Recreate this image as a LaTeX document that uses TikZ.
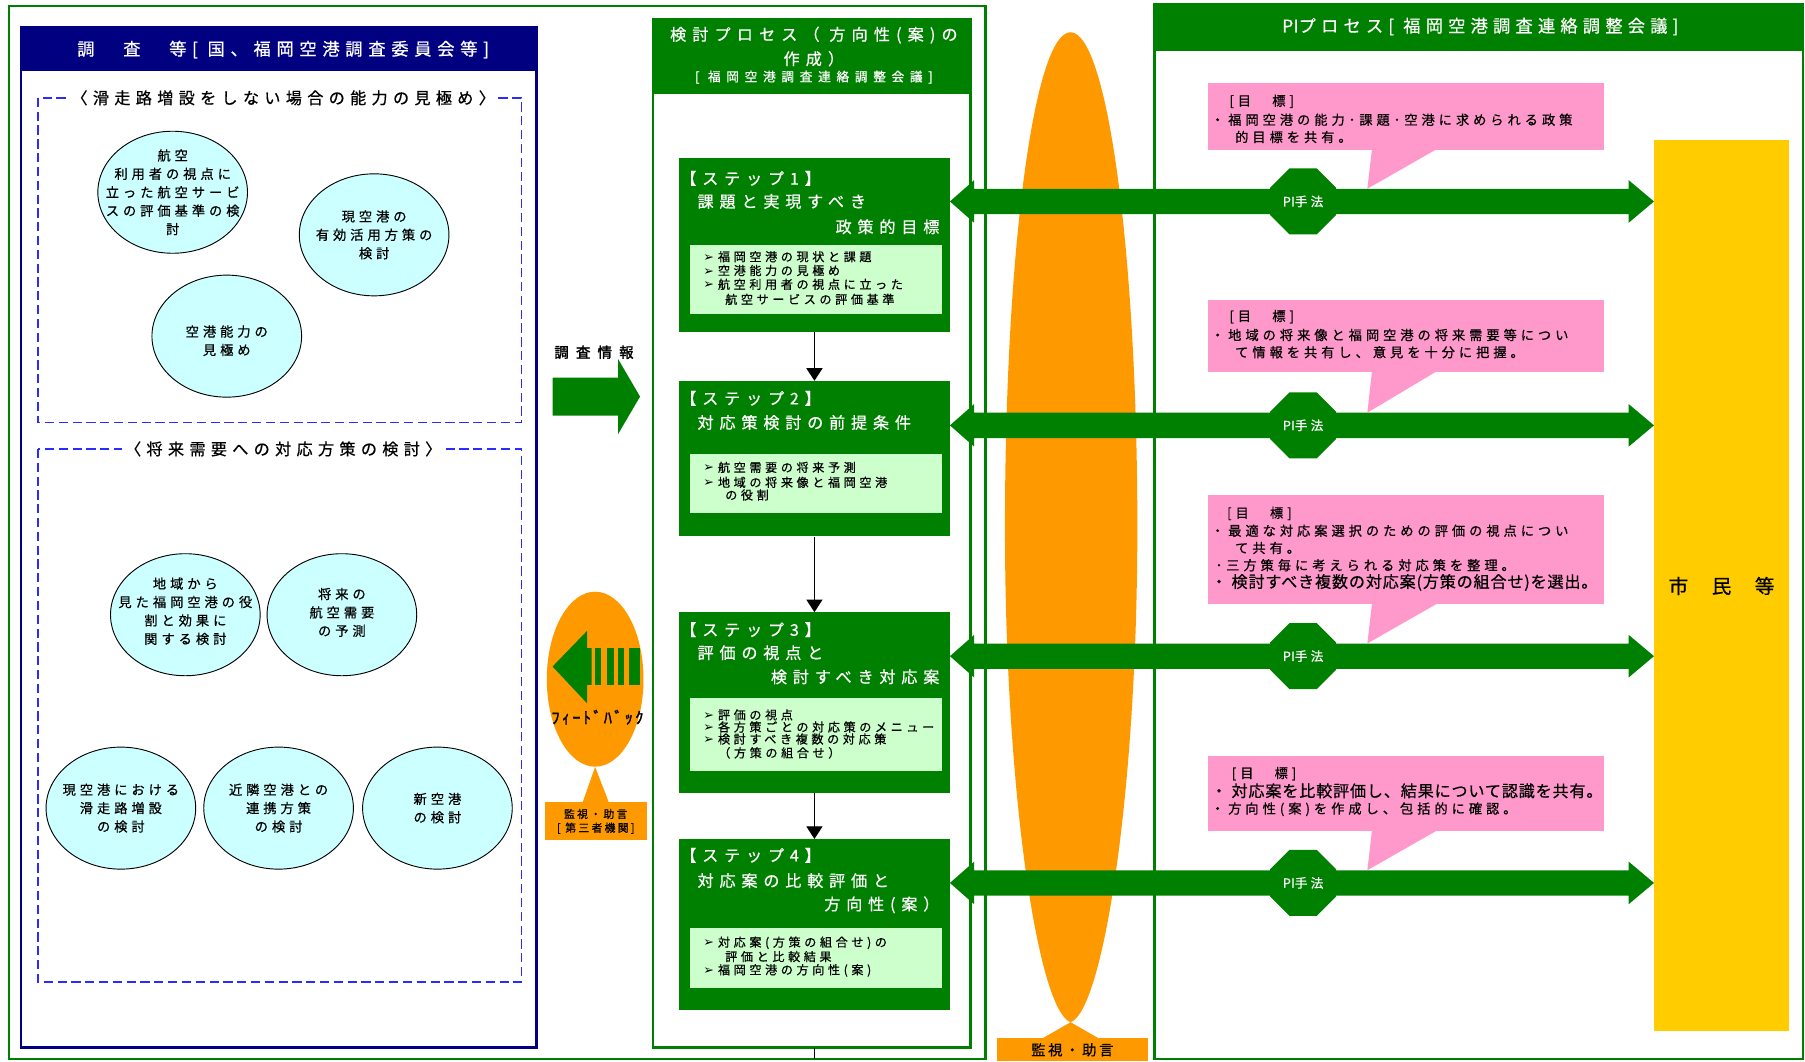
\documentclass[tikz,border=0pt]{standalone}
\usepackage{fontspec}
\newfontfamily\jp[FakeBold=0.6]{Noto Sans CJK JP}
\newfontfamily\jpb[FakeBold=2]{Noto Sans CJK JP}
\newfontfamily\dv{DejaVu Sans}
\usetikzlibrary{shapes.geometric,arrows.meta,calc}
\definecolor{gr}{HTML}{008000}
\definecolor{lg}{HTML}{CCFFCC}
\definecolor{cy}{HTML}{CCFFFF}
\definecolor{nvy}{HTML}{000080}
\definecolor{dblue}{HTML}{2B2BFF}
\definecolor{orng}{HTML}{FF9900}
\definecolor{yel}{HTML}{FFCC00}
\definecolor{pnk}{HTML}{FF99CC}
\newcommand\jfs[3]{\jp\fontsize{#1}{#2}\selectfont\addfontfeature{LetterSpace=#3}}
\newcommand\jfb[3]{\jpb\fontsize{#1}{#2}\selectfont\addfontfeature{LetterSpace=#3}}
\newcommand\bmark{{\dv\fontsize{11}{10}\selectfont ➢}\hspace{3.5pt}}
\newcommand\PIx{{\addfontfeature{LetterSpace=2}PI}}
\newcommand\dblarr[2]{\fill[gr] (#1) -- ++(21,-18.5) -- ++(0,7.5) -- ($(#2)+(-22,-11)$) -- ++(0,-7.5) -- (#2) -- ++(-22,18.5) -- ++(0,-7.5) -- ($(#1)+(21,11)$) -- ++(0,7.5) -- cycle;}
\begin{document}
\begin{tikzpicture}[x=1pt,y=-1pt,
 txt/.style={inner sep=0pt, outer sep=0pt},
 hdr/.style={txt, text=white, font=\jfs{15}{18}{33}},
 dtitle/.style={fill=white, inner xsep=3pt, inner ysep=3pt, font=\jfs{14}{16}{33}},
 dashbox/.style={draw=dblue, line width=1.2pt, dash pattern=on 8pt off 4pt},
 ell/.style={ellipse, draw=black, line width=0.8pt, fill=cy, minimum width=130pt, minimum height=106pt, inner sep=0pt},
 etxt/.style={txt, align=center, font=\jfs{11.5}{16}{30}},
 stepbox/.style={fill=gr, minimum width=235pt, inner sep=0pt},
 inbox/.style={fill=lg, minimum width=219pt, inner sep=0pt},
 sttl/.style={txt, text=white, font=\jfs{14}{16}{36}},
 bul/.style={txt, anchor=west, font=\jfs{10.5}{12}{30}},
 stepar/.style={draw=black, line width=1pt, -{Triangle[width=14pt,length=11pt]}},
 pinkbox/.style={fill=pnk, minimum width=344pt, inner sep=0pt},
 ptxt/.style={txt, anchor=west, font=\jfs{11.5}{14}{30}},
 ptight/.style={txt, anchor=west, font=\jfs{14}{16}{5}},
 oct/.style={regular polygon, regular polygon sides=8, minimum size=62pt, fill=gr, inner sep=0pt, text=white, font=\jfs{11}{12}{25}}
]
\useasboundingbox (0,0) rectangle (1568,921.7);
\fill[white] (0,0) rectangle (1568,921.7);

% ---------- left: survey ----------
\draw[gr, line width=2pt] (8,5) rectangle (856,920);
\draw[nvy, line width=2pt] (18,24) rectangle (466,910);
\fill[nvy] (18,24) rectangle (466,62);
\node[hdr] (bt) at (246,43) {調　査　等[ 国、福岡空港調査委員会等]};

\draw[dashbox] (33,85) rectangle (453,367);
\node[dtitle] (d1t) at (246,85) {〈滑走路増設をしない場合の能力の見極め〉};
\draw[dashbox] (33,390) rectangle (453,853);
\node[dtitle] (d2t) at (246,390) {〈将来需要への対応方策の検討〉};

\node[ell] (e1) at (150,167) {};
\node[ell] (e2) at (325,204) {};
\node[ell] (e3) at (197,292) {};
\node[ell] (e4) at (161,534) {};
\node[ell] (e5) at (297,534) {};
\node[ell] (e6) at (105,702) {};
\node[ell] (e7) at (242,702) {};
\node[ell] (e8) at (380,702) {};
\node[etxt] (e1t) at (e1) {航空\\利用者の視点に\\立った航空サービ\\スの評価基準の検\\討};
\node[etxt] (e2t) at (e2) {現空港の\\有効活用方策の\\検討};
\node[etxt] (e3t) at ($(e3)+(0,4)$) {空港能力の\\見極め};
\node[etxt] (e4t) at ($(e4)+(0,-3)$) {地域から\\見た福岡空港の役\\割と効果に\\関する検討};
\node[etxt] (e5t) at ($(e5)+(0,-2)$) {将来の\\航空需要\\の予測};
\node[etxt] (e6t) at (e6) {現空港における\\滑走路増設\\の検討};
\node[etxt] (e7t) at (e7) {近隣空港との\\連携方策\\の検討};
\node[etxt] (e8t) at (e8) {新空港\\の検討};

% ---------- info arrow & feedback ----------
\node[txt, font=\jfb{12.5}{14}{50}] (info) at (516,306) {調査情報};
\fill[gr] (480,328) -- (537,328) -- (537,312) -- (556,344.5) -- (537,377) -- (537,361) -- (480,361) -- cycle;

\node[ellipse, fill=orng, minimum width=84pt, minimum height=152pt, inner sep=0pt] (fb) at (517,590) {};
\node[fill=orng, minimum width=89pt, minimum height=33pt, inner sep=0pt, align=center, font=\jfs{9.5}{12}{20}] (fbbox) at (517.5,713.5) {監視・助言\\ {[} 第三者機関{]}};
\fill[orng] (fb.south) -- ($(fbbox.north)+(-11.5,0.5)$) -- ($(fbbox.north)+(11.5,0.5)$) -- cycle;
\fill[gr] (480,579) -- (510,548) -- (510,563) -- (514,563) -- (514,595) -- (510,595) -- (510,611) -- cycle;
\fill[gr] (517,563) rectangle (522,595);
\fill[gr] (527,563) rectangle (533,595);
\fill[gr] (537,563) rectangle (542,595);
\fill[gr] (546,563) rectangle (556,595);
\node[txt, font=\jfb{14}{16}{15}] (fbt) at (519,623) {ﾌｨｰﾄﾞﾊﾞｯｸ};

% ---------- middle: process ----------
\draw[gr, line width=2pt] (567,17) rectangle (843,910);
\fill[gr] (567,17) rectangle (843,82);
\node[txt, text=white, font=\jfs{14}{16}{38}] (m1) at (707,30.5) {検討プロセス（ 方向性(案)の};
\node[txt, text=white, font=\jfs{14}{16}{38}] (m2) at (707,51) {作成）};
\node[txt, text=white, font=\jfs{11}{12}{45}] (m3) at (707,67) {[ 福岡空港調査連絡調整会議]};

% big orange ellipse
\fill[orng] (930,28) .. controls (962,28) and (988,221) .. (988,458) .. controls (988,690) and (958,878) .. (930,888) .. controls (902,878) and (873,690) .. (873,458) .. controls (873,221) and (898,28) .. (930,28) -- cycle;
\node[fill=orng, minimum width=131pt, minimum height=20pt, inner sep=0pt, font=\jfs{12.5}{14}{18}] (mon) at (931.5,912) {監視・助言};
\fill[orng] (930,888) -- ($(mon.north)+(23.5,0.5)$) -- ($(mon.north)+(-26.5,0.5)$) -- cycle;

% steps
\node[stepbox, minimum height=151pt] (s1) at (707.5,212.5) {};
\node[stepbox, minimum height=135pt] (s2) at (707.5,398.5) {};
\node[stepbox, minimum height=157pt] (s3) at (707.5,610.5) {};
\node[stepbox, minimum height=148pt] (s4) at (707.5,803) {};
\node[inbox, minimum height=60pt] (i1) at (708.5,243) {};
\node[inbox, minimum height=52pt] (i2) at (708.5,420) {};
\node[inbox, minimum height=64pt] (i3) at (708.5,638) {};
\node[inbox, minimum height=52pt] (i4) at (708.5,832) {};

\node[sttl, anchor=west] (s1a) at (591,155) {【ステップ1】};
\node[sttl, anchor=west] (s1b) at (606,175) {課題と実現すべき};
\node[sttl, anchor=east] (s1c) at (816,197) {政策的目標};
\node[bul] (s1d) at (611,223) {\bmark 福岡空港の現状と課題};
\node[bul] (s1e) at (611,235) {\bmark 空港能力の見極め};
\node[bul] (s1f) at (611,247) {\bmark 航空利用者の視点に立った};
\node[bul] (s1g) at (630,260) {航空サービスの評価基準};

\node[sttl, anchor=west] (s2a) at (591,346) {【ステップ2】};
\node[sttl, anchor=west] (s2b) at (606,367) {対応策検討の前提条件};
\node[bul] (s2c) at (611,406) {\bmark 航空需要の将来予測};
\node[bul] (s2d) at (611,419) {\bmark 地域の将来像と福岡空港};
\node[bul] (s2e) at (630,430) {の役割};

\node[sttl, anchor=west] (s3a) at (591,547) {【ステップ3】};
\node[sttl, anchor=west] (s3b) at (606,567) {評価の視点と};
\node[sttl, anchor=east] (s3c) at (816,588) {検討すべき対応案};
\node[bul] (s3d) at (611,621) {\bmark 評価の視点};
\node[bul] (s3e) at (611,631.5) {\bmark 各方策ごとの対応策のメニュー};
\node[bul] (s3f) at (611,642) {\bmark 検討すべき複数の対応策};
\node[bul] (s3g) at (624,654) {（方策の組合せ）};

\node[sttl, anchor=west] (s4a) at (591,743) {【ステップ4】};
\node[sttl, anchor=west] (s4b) at (606,765) {対応案の比較評価と};
\node[sttl, anchor=east] (s4c) at (816,786) {方向性(案）};
\node[bul] (s4d) at (611,819) {\bmark 対応案(方策の組合せ)の};
\node[bul] (s4e) at (630,831) {評価と比較結果};
\node[bul] (s4f) at (611,843) {\bmark 福岡空港の方向性(案)};

\draw[stepar] (s1.south) -- (s2.north);
\draw[stepar] (s2.south) -- (s3.north);
\draw[stepar] (s3.south) -- (s4.north);
\coordinate (mbot) at (707.5,910);
\coordinate (obot) at (707.5,920);
\draw[black, line width=1pt] (mbot) -- (obot);

% ---------- right: PI process ----------
\draw[gr, line width=2pt] (1003,4) rectangle (1566,920);
\fill[gr] (1003,4) rectangle (1566,44);
\node[txt, text=white, font=\jfs{15}{18}{30}] (pit) at (1286,23) {\PIx プロセス[ 福岡空港調査連絡調整会議]};

\node[fill=yel, minimum width=117pt, minimum height=774pt, inner sep=0pt, font=\jfs{17}{18}{10}] (cit) at (1495.5,509) {市　民　等};

\node[pinkbox, minimum height=58pt] (p1) at (1221,101) {};
\node[pinkbox, minimum height=62pt] (p2) at (1221,292) {};
\node[pinkbox, minimum height=95pt] (p3) at (1221,477.5) {};
\node[pinkbox, minimum height=65pt] (p4) at (1221,689.5) {};

\coordinate (o1c) at (1132,175);
\coordinate (o2c) at (1132,369.5);
\coordinate (o3c) at (1132,570);
\coordinate (o4c) at (1132,767);

\coordinate (a1l) at (s1.east |- o1c); \coordinate (a1r) at (cit.west |- o1c);
\coordinate (a2l) at (s2.east |- o2c); \coordinate (a2r) at (cit.west |- o2c);
\coordinate (a3l) at (s3.east |- o3c); \coordinate (a3r) at (cit.west |- o3c);
\coordinate (a4l) at (s4.east |- o4c); \coordinate (a4r) at (cit.west |- o4c);
\dblarr{a1l}{a1r}
\dblarr{a2l}{a2r}
\dblarr{a3l}{a3r}
\dblarr{a4l}{a4r}

\foreach \p/\o in {p1/o1c,p2/o2c,p3/o3c,p4/o4c}{
  \fill[pnk] ($(\p.south west)+(143,-0.5)$) -- ($(\p.south west)+(199,-0.5)$) -- ($(\p.south west |- \o)+(139,-11)$) -- cycle;
}
\node[oct] (o1) at (o1c) {\PIx 手法};
\node[oct] (o2) at (o2c) {\PIx 手法};
\node[oct] (o3) at (o3c) {\PIx 手法};
\node[oct] (o4) at (o4c) {\PIx 手法};

\node[ptxt] (p1a) at (1068,88) {[目　標]};
\node[ptxt] (p1b) at (1052,104) {・福岡空港の能力･課題･空港に求められる政策};
\node[ptxt] (p1c) at (1073,119) {的目標を共有。};

\node[ptxt] (p2a) at (1068,275) {[目　標]};
\node[ptxt] (p2b) at (1052,291) {・地域の将来像と福岡空港の将来需要等につい};
\node[ptxt] (p2c) at (1073,306) {て情報を共有し、意見を十分に把握。};

\node[ptxt] (p3a) at (1066,446) {[目　標]};
\node[ptxt] (p3b) at (1052,461) {・最適な対応案選択のための評価の視点につい};
\node[ptxt] (p3c) at (1073,476) {て共有。};
\node[ptxt] (p3d) at (1056,491) {･三方策毎に考えられる対応策を整理。};
\node[ptight] (p3e) at (1052,506) {・ 検討すべき複数の対応案(方策の組合せ)を選出。};

\node[ptxt] (p4a) at (1070,672) {[目　標]};
\node[ptight] (p4b) at (1052,687) {・ 対応案を比較評価し、結果について認識を共有。};
\node[ptxt] (p4c) at (1052,703) {・方向性(案)を作成し、包括的に確認。};
\end{tikzpicture}
\end{document}
